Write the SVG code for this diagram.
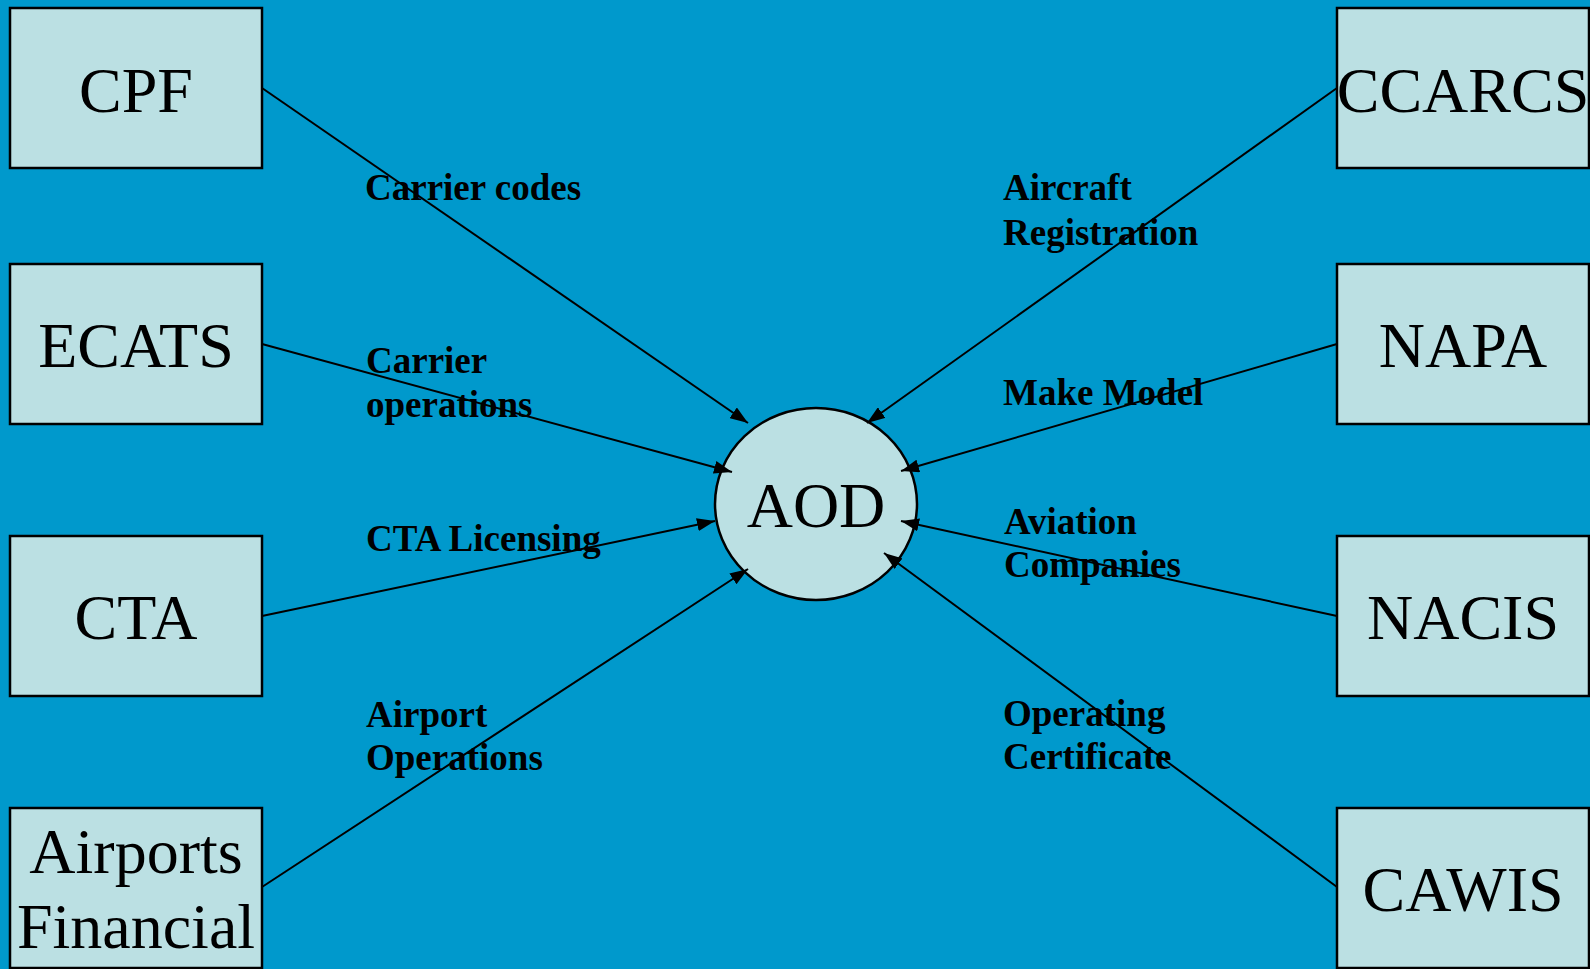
<svg xmlns="http://www.w3.org/2000/svg" width="1590" height="969" viewBox="0 0 1590 969">
<defs>
<style>
.box{fill:#BBE0E3;stroke:#000;stroke-width:2.5}
.nt{font-family:"Liberation Serif","Times New Roman",serif;font-size:64px;fill:#000;text-anchor:middle}
.lb{font-family:"Liberation Serif","Times New Roman",serif;font-size:37px;font-weight:bold;fill:#000}
.cn{stroke:#000;stroke-width:2;fill:none;marker-end:url(#ah)}
</style>
<marker id="ah" viewBox="0 0 18 13" refX="18" refY="6.5" markerWidth="18" markerHeight="13" markerUnits="userSpaceOnUse" orient="auto">
<path d="M0,0 L18,6.5 L0,13 z" fill="#000"/>
</marker>
</defs>
<rect x="0" y="0" width="1590" height="969" fill="#0099CC"/>
<g id="labels">
<text class="lb" x="365" y="200">Carrier codes</text>
<text class="lb" x="366" y="373">Carrier</text>
<text class="lb" x="366" y="417">operations</text>
<text class="lb" x="366" y="551">CTA Licensing</text>
<text class="lb" x="366" y="727">Airport</text>
<text class="lb" x="366" y="770">Operations</text>
<text class="lb" x="1003" y="200">Aircraft</text>
<text class="lb" x="1003" y="245">Registration</text>
<text class="lb" x="1003" y="405">Make Model</text>
<text class="lb" x="1004" y="534">Aviation</text>
<text class="lb" x="1004" y="577">Companies</text>
<text class="lb" x="1003" y="726">Operating</text>
<text class="lb" x="1003" y="769">Certificate</text>
</g>
<g id="AOD">
<ellipse class="box" cx="816" cy="504" rx="101" ry="96"/>
<text class="nt" x="816" y="527">AOD</text>
</g>
<g id="CPF">
<rect class="box" x="10" y="8" width="252" height="160"/>
<text class="nt" x="136" y="112">CPF</text>
</g>
<g id="ECATS">
<rect class="box" x="10" y="264" width="252" height="160"/>
<text class="nt" x="136" y="367">ECATS</text>
</g>
<g id="CTA">
<rect class="box" x="10" y="536" width="252" height="160"/>
<text class="nt" x="136" y="639">CTA</text>
</g>
<g id="AirportsFinancial">
<rect class="box" x="10" y="808" width="252" height="160"/>
<text class="nt" x="136" y="873">Airports</text>
<text class="nt" x="136" y="948">Financial</text>
</g>
<g id="CCARCS">
<rect class="box" x="1337" y="8" width="252" height="160"/>
<text class="nt" x="1463" y="112">CCARCS</text>
</g>
<g id="NAPA">
<rect class="box" x="1337" y="264" width="252" height="160"/>
<text class="nt" x="1463" y="367">NAPA</text>
</g>
<g id="NACIS">
<rect class="box" x="1337" y="536" width="252" height="160"/>
<text class="nt" x="1463" y="639">NACIS</text>
</g>
<g id="CAWIS">
<rect class="box" x="1337" y="808" width="252" height="160"/>
<text class="nt" x="1463" y="911">CAWIS</text>
</g>
<g id="connectors">
<line class="cn" x1="262" y1="88" x2="748" y2="423"/>
<line class="cn" x1="262" y1="344" x2="732" y2="472"/>
<line class="cn" x1="262" y1="616" x2="715" y2="521"/>
<line class="cn" x1="262" y1="887" x2="748" y2="569"/>
<line class="cn" x1="1337" y1="88" x2="867" y2="423"/>
<line class="cn" x1="1337" y1="344" x2="901" y2="471"/>
<line class="cn" x1="1337" y1="616" x2="901" y2="521"/>
<line class="cn" x1="1337" y1="887" x2="884" y2="553"/>
</g>
</svg>
